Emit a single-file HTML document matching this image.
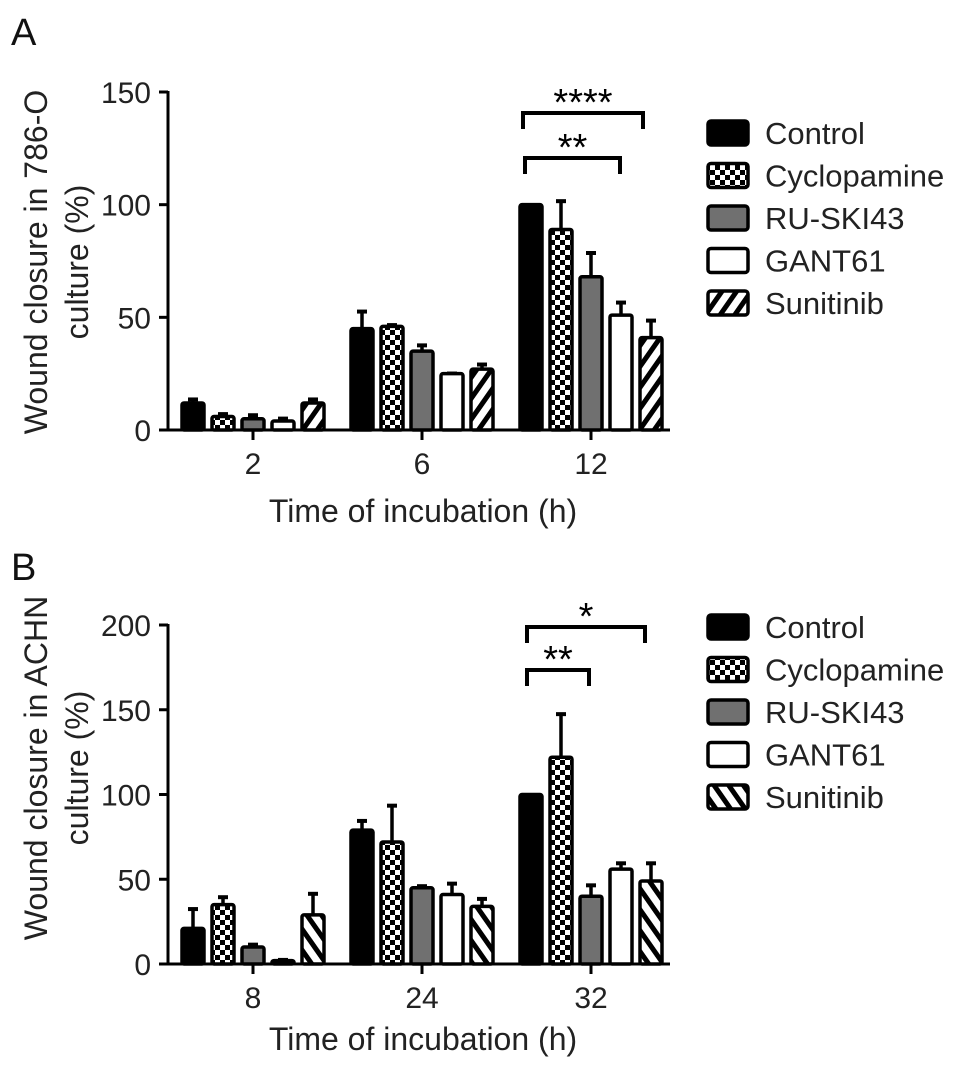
<!DOCTYPE html>
<html><head><meta charset="utf-8"><style>
html,body{margin:0;padding:0;background:#fff;}
svg{display:block;font-family:"Liberation Sans",Arial,sans-serif;}
</style></head><body>
<svg id="fig" width="969" height="1070" viewBox="0 0 969 1070" xmlns="http://www.w3.org/2000/svg">
<defs>
<pattern id="checker" patternUnits="userSpaceOnUse" width="10" height="10">
<rect width="10" height="10" fill="#fff"/><rect width="5" height="5" fill="#000"/><rect x="5" y="5" width="5" height="5" fill="#000"/>
</pattern>
<pattern id="stripeA" patternUnits="userSpaceOnUse" width="12" height="12" patternTransform="rotate(35)">
<rect width="12" height="12" fill="#fff"/><rect width="5" height="12" fill="#000"/>
</pattern>
<pattern id="stripeB" patternUnits="userSpaceOnUse" width="12" height="12" patternTransform="rotate(-35)">
<rect width="12" height="12" fill="#fff"/><rect width="5" height="12" fill="#000"/>
</pattern>
</defs>
</svg>
<script>
const seriesNames = ["Control","Cyclopamine","RU-SKI43","GANT61","Sunitinib"];
const catsA = ["2","6","12"];
const valsA = [[12,45,100],[6,46,89],[5,35,68],[4,25,51],[12,27,41]];
const errsA = [[2,8,0],[1.5,1,13],[2,3,11],[1.5,0.5,6],[2,2.5,8]];
const ticksA = [0,50,100,150];
const catsB = ["8","24","32"];
const valsB = [[21,79,100],[35,72,122],[10,45,40],[2,41,56],[29,34,49]];
const errsB = [[12,6,0],[5,22,26],[2,1.5,7],[1,7,4],[13,5,11]];
const ticksB = [0,50,100,150,200];

const NS="http://www.w3.org/2000/svg";
const svg=document.getElementById('fig');
function el(tag,attrs,parent){const e=document.createElementNS(NS,tag);for(const k in attrs)e.setAttribute(k,attrs[k]);(parent||svg).appendChild(e);return e;}
function txt(s,attrs,parent){const t=el('text',attrs,parent);t.textContent=s;return t;}

function panel(o){
  const g=el('g',{});
  
  
  const y=v=>o.y0-(v/o.ymax)*(o.y0-o.yTop);
  const cx=[253,422,591];
  const fills=['#000','url(#checker)','#707070','#fff','url(#'+o.stripe+')'];
  const L=txt(o.letter,{x:11,y:o.letterY,'font-size':38,fill:'#111'},g);
  
  
  for(let s=0;s<5;s++){for(let c=0;c<3;c++){
    const v=o.vals[s][c],e=o.errs[s][c];
    const xc=cx[c]+(s-2)*30;
    if(e>0){
      const eb=el('line',{x1:xc,x2:xc,y1:y(v),y2:y(v+e),stroke:'#000','stroke-width':3.5},g);
      
      
      el('line',{x1:xc-5,x2:xc+5,y1:y(v+e)+1,y2:y(v+e)+1,stroke:'#000','stroke-width':4},g);
    }
    const r=el('rect',{x:xc-11,y:y(v),width:22,height:Math.max(0,o.y0-y(v)),fill:fills[s],stroke:'#000','stroke-width':3.5,rx:2},g);
    
    
  }}
  const ya=el('line',{x1:168,x2:168,y1:o.yTop-1,y2:o.y0+1,stroke:'#000','stroke-width':3},g);
  
  
  const xa=el('line',{x1:166,x2:670,y1:o.y0,y2:o.y0,stroke:'#000','stroke-width':3},g);
  
  
  o.ticks.forEach(t=>{
    el('line',{x1:159,x2:168,y1:y(t),y2:y(t),stroke:'#000','stroke-width':3},g);
    const tl=txt(String(t),{x:151,y:y(t)+11,'font-size':30,'text-anchor':'end',fill:'#222'},g);
    
    
  });
  o.cats.forEach((c,i)=>{
    el('line',{x1:cx[i],x2:cx[i],y1:o.y0,y2:o.y0+10,stroke:'#000','stroke-width':3},g);
    const tl=txt(c,{x:cx[i],y:o.y0+44,'font-size':30,'text-anchor':'middle',fill:'#222'},g);
    
    
  });
  const xt=txt('Time of incubation (h)',{x:423,y:o.xTitleY,'font-size':32,'text-anchor':'middle',fill:'#222'},g);
  
  
  const yt=el('text',{transform:'translate(47,'+o.yMid+') rotate(-90)','font-size':32,'text-anchor':'middle',fill:'#222'},g);
  
  
  const t1=el('tspan',{x:0,y:0},yt);t1.textContent=o.ytitle;
  const t2=el('tspan',{x:0,y:41},yt);t2.textContent='culture (%)';
  o.brackets.forEach(b=>{
    const p=el('path',{d:`M${b.x1},${b.yb+16} V${b.yb} H${b.x2} V${b.yb+16}`,fill:'none',stroke:'#000','stroke-width':4},g);
    
    
    const s=txt(b.s,{x:(b.x1+b.x2)/2,y:b.yb+2,'font-size':38,'text-anchor':'middle'},g);
    
    
  });
  seriesNames.forEach((n,i)=>{
    const ly=o.legY+i*42.5;
    const r=el('rect',{x:708,y:ly-12,width:40,height:24,fill:fills[i],stroke:'#000','stroke-width':3.5,rx:3},g);
    
    
    const t=txt(n,{x:765,y:ly+11,'font-size':31,fill:'#222'},g);
    
    
  });
}
panel({name:'panel-a',letter:'A',letterY:45,cats:catsA,vals:valsA,errs:errsA,ticks:ticksA,ymax:150,y0:430,yTop:92,
  stripe:'stripeA',xTitleY:522,yMid:262,ytitle:'Wound closure in 786-O',legY:133,
  brackets:[{x1:523,x2:643,yb:113,s:'****'},{x1:525,x2:620,yb:158,s:'**'}]});
panel({name:'panel-b',letter:'B',letterY:580,cats:catsB,vals:valsB,errs:errsB,ticks:ticksB,ymax:200,y0:964,yTop:625,
  stripe:'stripeB',xTitleY:1050,yMid:768,ytitle:'Wound closure in ACHN',legY:627,
  brackets:[{x1:527,x2:645,yb:627,s:'*'},{x1:527,x2:589,yb:670,s:'**'}]});
</script>
</body></html>
